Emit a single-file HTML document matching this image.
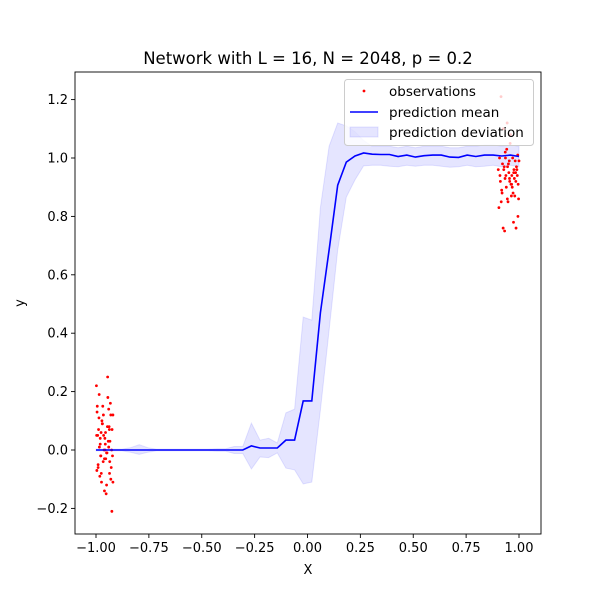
<!DOCTYPE html>
<html><head><meta charset="utf-8"><style>
body{margin:0;background:#fff}
svg text{font-family:"DejaVu Sans","Liberation Sans",sans-serif;fill:#000}
</style></head><body>
<svg id="chart" width="600" height="600" viewBox="0 0 600 600" xmlns="http://www.w3.org/2000/svg">
<rect x="0" y="0" width="600" height="600" fill="#fff"/>
<g id="plot"></g>
</svg>
<script>
const meanX = [];
for (let k = 0; k < 50; k++) meanX.push(-1 + k * 2 / 49);
const meanY = [0,0,0,0,0,0,0,0,0,0,0,0,0,0,0,0,0,0,0.014,0.007,0.007,0.007,0.034,0.034,0.168,0.168,0.47,0.685,0.907,0.986,1.007,1.017,1.013,1.012,1.012,1.005,1.01,1.003,1.008,1.01,1.01,1.003,1.002,1.01,1.005,1.01,1.01,1.007,1.01,1.005];
const upperY = [0.003,0.003,0.003,0.003,0.008,0.018,0.008,0.003,0.003,0.003,0.003,0.003,0.003,0.003,0.004,0.004,0.012,0.012,0.092,0.034,0.04,0.024,0.127,0.14,0.455,0.445,0.83,1.04,1.12,1.11,1.09,1.06,1.04,1.04,1.04,1.035,1.04,1.035,1.04,1.04,1.04,1.035,1.035,1.04,1.04,1.045,1.045,1.04,1.045,1.04];
const lowerY = [-0.003,-0.003,-0.003,-0.003,-0.008,-0.015,-0.008,-0.003,-0.003,-0.003,-0.003,-0.003,-0.003,-0.003,-0.004,-0.004,-0.012,-0.012,-0.065,-0.024,-0.026,-0.01,-0.062,-0.068,-0.116,-0.11,0.137,0.41,0.685,0.866,0.925,0.973,0.975,0.975,0.972,0.97,0.975,0.972,0.975,0.975,0.972,0.968,0.97,0.975,0.97,0.972,0.975,0.97,0.975,0.97];
const obsLeftX = [-0.995,-0.99,-0.985,-0.98,-0.975,-0.97,-0.965,-0.96,-0.955,-0.95,-0.945,-0.94,-0.935,-0.93,-0.925,-0.92,-0.998,-0.988,-0.978,-0.968,-0.958,-0.948,-0.938,-0.928,-0.992,-0.982,-0.972,-0.962,-0.952,-0.942,-0.932,-0.922,-0.996,-0.986,-0.976,-0.966,-0.956,-0.946,-0.936,-0.926,-0.994,-0.984,-0.974,-0.964,-0.954,-0.944,-0.934,-0.924,-0.99,-0.97,-0.95,-0.93,-0.98,-0.96,-0.94,-0.92,-0.997,-0.977,-0.957,-0.937];
const obsLeftY = [0.13,-0.05,0.19,0.02,-0.08,0.09,0.12,-0.03,0.06,-0.12,0.25,0.01,-0.04,0.12,-0.21,-0.11,0.22,0.07,-0.02,0.15,0.04,-0.01,0.08,-0.06,0.05,-0.09,0.1,0.0,-0.15,0.03,0.16,-0.02,-0.07,0.11,0.06,-0.04,0.02,0.08,-0.08,0.0,0.15,0.01,-0.11,0.05,-0.03,0.18,0.03,0.07,-0.06,0.09,-0.01,-0.1,0.04,-0.14,0.14,0.12,0.05,-0.02,0.0,0.07];
const obsRightX = [0.905,0.91,0.915,0.92,0.925,0.93,0.935,0.94,0.945,0.95,0.955,0.96,0.965,0.97,0.975,0.98,0.985,0.99,0.995,1.0,0.908,0.918,0.928,0.938,0.948,0.958,0.968,0.978,0.988,0.998,0.912,0.922,0.932,0.942,0.952,0.962,0.972,0.982,0.992,0.902,0.926,0.946,0.966,0.986,0.916,0.936,0.956,0.976,0.996,0.944,0.964,0.984,0.934,0.954,0.974,0.994];
const obsRightY = [0.83,0.94,1.21,0.88,0.76,0.97,1.02,0.9,0.86,0.98,0.93,1.08,0.91,1.0,0.95,0.87,0.92,0.96,0.8,0.99,1.0,0.89,0.96,0.94,0.85,1.05,0.9,0.93,0.97,0.86,0.92,0.98,0.75,1.03,0.95,0.91,0.88,0.99,0.94,0.96,1.1,0.97,0.94,0.76,0.85,1.0,0.92,0.96,0.91,1.12,0.87,0.95,0.93,0.99,0.78,1.01];
const xTicks = [-1.0,-0.75,-0.5,-0.25,0.0,0.25,0.5,0.75,1.0];
const xTickLabels = ["−1.00","−0.75","−0.50","−0.25","0.00","0.25","0.50","0.75","1.00"];
const yTicks = [-0.2,0,0.2,0.4,0.6,0.8,1.0,1.2];
const yTickLabels = ["−0.2","0.0","0.2","0.4","0.6","0.8","1.0","1.2"];

const L=75,R=541,T=72,B=534;
const sx = v => 307.5 + v*211.5;
const sy = v => 450 - v*292;
const NS="http://www.w3.org/2000/svg";
const g=document.getElementById('plot');
function mk(tag,attrs,parent){const e=document.createElementNS(NS,tag);for(const k in attrs)e.setAttribute(k,attrs[k]);(parent||g).appendChild(e);return e;}

let d='M'+meanX.map((x,i)=>sx(x).toFixed(1)+','+sy(upperY[i]).toFixed(1)).join('L');
for(let i=meanX.length-1;i>=0;i--) d+='L'+sx(meanX[i]).toFixed(1)+','+sy(lowerY[i]).toFixed(1);
d+='Z';
const band=mk('path',{d:d,fill:'#0000ff','fill-opacity':0.1,stroke:'#0000ff','stroke-opacity':0.1});



const obs=mk('g',{});


function pts(xs,ys){xs.forEach((x,i)=>{const c=mk('circle',{cx:sx(x),cy:sy(ys[i]),r:1.4,fill:'#ff0000'},obs);

});}
pts(obsLeftX,obsLeftY);pts(obsRightX,obsRightY);

const line=mk('polyline',{points:meanX.map((x,i)=>sx(x).toFixed(1)+','+sy(meanY[i]).toFixed(1)).join(' '),fill:'none',stroke:'#0000ff','stroke-width':1.6});



const fr=mk('rect',{x:L,y:T,width:R-L,height:B-T,fill:'none',stroke:'#000','stroke-width':0.9});



xTicks.forEach((v,i)=>{const x=sx(v);
 const t=mk('line',{x1:x,x2:x,y1:B,y2:B+4,stroke:'#000','stroke-width':0.9});
 
 
 const l=mk('text',{x:x,y:B+18,'text-anchor':'middle','font-size':13});l.textContent=xTickLabels[i];
 
 });
yTicks.forEach((v,i)=>{const y=sy(v);
 const t=mk('line',{x1:L-4,x2:L,y1:y,y2:y,stroke:'#000','stroke-width':0.9});
 
 
 const l=mk('text',{x:L-7,y:y+4.5,'text-anchor':'end','font-size':13});l.textContent=yTickLabels[i];
 
 });

const title=mk('text',{x:308,y:64,'text-anchor':'middle','font-size':16.5});title.textContent='Network with L = 16, N = 2048, p = 0.2';


const xl=mk('text',{x:308,y:574,'text-anchor':'middle','font-size':13});xl.textContent='X';


const yl=mk('text',{x:24,y:303,'text-anchor':'middle','font-size':13,transform:'rotate(-90 24 303)'});yl.textContent='y';



const lg=mk('g',{});


mk('rect',{x:344.5,y:79.5,width:189,height:66,rx:3,fill:'#fff','fill-opacity':0.8,stroke:'#ccc'},lg);
const e1=mk('circle',{cx:364,cy:91,r:1.4,fill:'#ff0000'},lg);


const e2=mk('line',{x1:350,x2:378,y1:112,y2:112,stroke:'#0000ff','stroke-width':1.6},lg);


const e3=mk('rect',{x:350,y:127,width:28,height:10,fill:'#0000ff','fill-opacity':0.1,stroke:'#0000ff','stroke-opacity':0.1},lg);


[['observations',96],['prediction mean',117],['prediction deviation',137]].forEach(([s,y])=>{
 const t=mk('text',{x:389,y:y,'font-size':13.5},lg);t.textContent=s;
 
 });
</script>
</body></html>
